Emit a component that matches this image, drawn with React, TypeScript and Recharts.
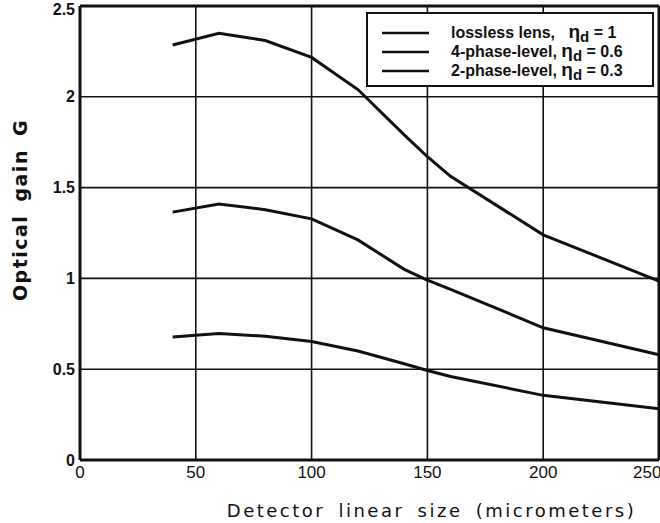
import React from 'react';
import { LineChart, Line, XAxis, YAxis, CartesianGrid, Legend, ReferenceLine } from 'recharts';

const sizes = [40, 60, 80, 100, 120, 140, 150, 160, 200, 250];
const lossless = [2.285, 2.35, 2.31, 2.217, 2.04, 1.79, 1.67, 1.562, 1.24, 0.985];
const fourPhase = [1.365, 1.41, 1.378, 1.328, 1.212, 1.05, 0.99, 0.94, 0.728, 0.58];
const twoPhase = [0.677, 0.696, 0.682, 0.653, 0.6, 0.53, 0.493, 0.46, 0.356, 0.282];
const seriesNames = ['lossless lens,', '4-phase-level,', '2-phase-level,'];
const etaValues = ['1', '0.6', '0.3'];
const xTicks = [0, 50, 100, 150, 200, 250];
const yTicks = [0, 0.5, 1, 1.5, 2, 2.5];
const xTitle = 'Detector linear size (micrometers)';
const yTitle = 'Optical gain G';

const data = sizes.map((s, i) => ({ s, a: lossless[i], b: fourPhase[i], c: twoPhase[i] }));
const keys = ['a', 'b', 'c'];

const LegendBox = () => (
  <div
    style={{
      width: 284,
      height: 71,
      border: '2.5px solid #111',
      background: '#fff',
      boxSizing: 'content-box',
      fontFamily: '"Liberation Sans", Arial, sans-serif',
      fontSize: 16,
      fontWeight: 'bold',
      color: '#111',
      paddingTop: 0,
    }}
  >
    <div style={{ height: 9 }} />
    {seriesNames.map((n, i) => (
      <div key={n} style={{ display: 'flex', alignItems: 'center', height: 19 }}>
        <svg width={83} height={10} style={{ flex: 'none' }}>
          <line x1={14} x2={61} y1={5} y2={5} stroke="#111" strokeWidth={2.5} />
        </svg>
        <span style={{ whiteSpace: 'pre' }}>
          {n}
          {i === 0 ? '   ' : ' '}
          <span style={{ fontSize: 19 }}>η</span>
          <sub style={{ fontSize: 15, verticalAlign: '-4px' }}>d</sub>
          {' = ' + etaValues[i]}
        </span>
      </div>
    ))}
  </div>
);

const YTitle = (props: any) => {
  const vb = props.viewBox;
  const cx = vb.x + 20;
  const cy = vb.y + vb.height / 2 - 23;
  return (
    <text
      x={cx}
      y={cy}
      transform={`rotate(-90, ${cx}, ${cy})`}
      textAnchor="middle"
      dominantBaseline="central"
      fontFamily='"DejaVu Sans", sans-serif'
      fontSize={19}
      fontWeight="bold"
      letterSpacing={1.5}
      wordSpacing={5}
      fill="#111"
    >
      {yTitle}
    </text>
  );
};

const XTitle = (props: any) => {
  const vb = props.viewBox;
  const cx = vb.x + vb.width / 2 + 62;
  return (
    <text
      x={cx}
      y={510}
      textAnchor="middle"
      dominantBaseline="central"
      fontFamily='"DejaVu Sans", sans-serif'
      fontSize={18}
      letterSpacing={2.5}
      wordSpacing={5}
      fill="#111"
    >
      {xTitle}
    </text>
  );
};

export default function App() {
  return (
    <div style={{ position: 'absolute', left: 0, top: 0, background: '#fff' }}>
      <LineChart width={660} height={523} data={data} margin={{ top: 6, right: 1, bottom: 0, left: 0 }}>
        <CartesianGrid stroke="#111" strokeWidth={1.6} strokeOpacity={1} />
        <XAxis
          dataKey="s"
          type="number"
          domain={[0, 250]}
          ticks={xTicks}
          tickSize={0}
          tickMargin={6}
          axisLine={{ stroke: '#111', strokeWidth: 3 }}
          tick={{ fill: '#111', fontSize: 17, fontFamily: '"Liberation Sans", Arial, sans-serif' }}
          label={{ content: XTitle }}
          height={63}
        />
        <YAxis
          type="number"
          domain={[0, 2.5]}
          ticks={yTicks}
          tickSize={0}
          tickMargin={5}
          width={80}
          axisLine={{ stroke: '#111', strokeWidth: 3 }}
          tick={{ fill: '#111', fontSize: 16, fontWeight: 'bold', fontFamily: '"Liberation Sans", Arial, sans-serif' }}
          label={{ content: YTitle }}
        />
        <ReferenceLine y={2.5} stroke="#111" strokeWidth={3} />
        <ReferenceLine x={250} stroke="#111" strokeWidth={3} />
        {keys.map((k, i) => (
          <Line
            key={k}
            dataKey={k}
            name={seriesNames[i]}
            type="linear"
            stroke="#111"
            strokeWidth={3}
            dot={false}
            isAnimationActive={false}
          />
        ))}
        <Legend
          content={<LegendBox />}
          layout="horizontal"
          align="center"
          verticalAlign="middle"
          wrapperStyle={{ position: 'absolute', left: 366, top: 12, width: 290, height: 78 }}
        />
      </LineChart>
    </div>
  );
}
